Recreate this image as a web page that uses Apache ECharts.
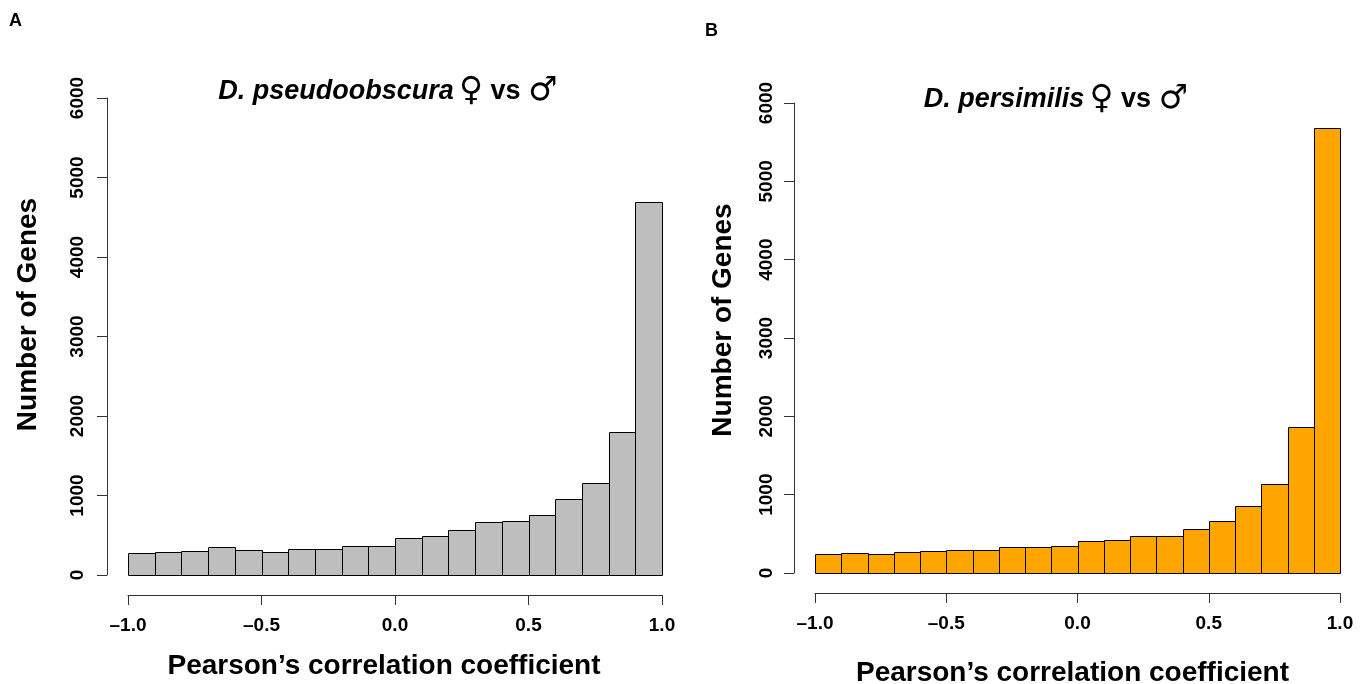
<!DOCTYPE html>
<html><head><meta charset="utf-8">
<script src="https://cdn.jsdelivr.net/npm/echarts@6/dist/echarts.min.js"></script>
<style>html,body{margin:0;padding:0;background:#fff}#c{width:1367px;height:684px}</style>
</head><body><div id="c"></div>
<script>
// Histogram bins (correlation coefficient, width 0.1)
const binStarts = [-1.0,-0.9,-0.8,-0.7,-0.6,-0.5,-0.4,-0.3,-0.2,-0.1,0.0,0.1,0.2,0.3,0.4,0.5,0.6,0.7,0.8,0.9];
const binEnds   = [-0.9,-0.8,-0.7,-0.6,-0.5,-0.4,-0.3,-0.2,-0.1,0.0,0.1,0.2,0.3,0.4,0.5,0.6,0.7,0.8,0.9,1.0];
// Number of genes per bin
const pseudoCounts = [283,295,308,346,312,295,329,321,367,367,460,489,561,667,684,759,962,1156,1802,4692];
const persimCounts = [243,260,243,264,281,298,298,328,328,349,404,426,477,477,566,660,851,1140,1868,5682];
// Axis ticks
const xTicks = [-1.0,-0.5,0.0,0.5,1.0];
const yTicks = [0,1000,2000,3000,4000,5000,6000];
const xTitle = 'Pearson\u2019s correlation coefficient';
const yTitle = 'Number of Genes';

const FONT = '"Liberation Sans", Arial, Helvetica, sans-serif';
const AX = '#333';

function toData(counts){ return counts.map((c,i)=>[binStarts[i], binEnds[i], c]); }

function renderItem(params, api){
  const p0 = api.coord([api.value(0), api.value(2)]);
  const p1 = api.coord([api.value(1), 0]);
  const x0 = Math.round(p0[0]) + 0.5, x1 = Math.round(p1[0]) + 0.5;
  const y0 = Math.round(p0[1]) + 0.5, y1 = Math.round(p1[1]) + 0.5;
  return {type:'rect', shape:{x:x0, y:y0, width:x1-x0, height:y1-y0},
    style: api.style({stroke:'#000', lineWidth:1})};
}

function xAxisCfg(gi, nameGap, namePad){
  return {gridIndex:gi, type:'value', min:xTicks[0], max:xTicks[xTicks.length-1], interval:0.5,
    offset:20, position:'bottom',
    axisLine:{show:true, onZero:false, lineStyle:{color:AX, width:1}},
    axisTick:{show:true, length:10, lineStyle:{color:AX}},
    splitLine:{show:false},
    axisLabel:{fontFamily:FONT, fontWeight:'bold', fontSize:19, color:'#000', margin:21,
      formatter: v => (v<0 ? '\u2013' + Math.abs(v).toFixed(1) : v.toFixed(1))},
    name:xTitle, nameLocation:'middle', nameGap:nameGap,
    nameTextStyle:{fontFamily:FONT, fontWeight:'bold', fontSize:28, color:'#000', padding:namePad}};
}
function yAxisCfg(gi, margin, nameGap, namePad){
  return {gridIndex:gi, type:'value', min:yTicks[0], max:yTicks[yTicks.length-1], interval:1000,
    offset:21, position:'left',
    axisLine:{show:true, onZero:false, lineStyle:{color:AX, width:1}},
    axisTick:{show:true, length:10, lineStyle:{color:AX}},
    splitLine:{show:false},
    axisLabel:{fontFamily:FONT, fontWeight:'bold', fontSize:19, color:'#000', rotate:90, margin:margin,
      formatter: v => String(v)},
    name:yTitle, nameLocation:'middle', nameGap:nameGap,
    nameTextStyle:{fontFamily:FONT, fontWeight:'bold', fontSize:28, color:'#000', padding:namePad}};
}

const titleRich = {
  i:{fontFamily:FONT, fontStyle:'italic', fontWeight:'bold', fontSize:27, color:'#000'},
  n:{fontFamily:FONT, fontWeight:'bold', fontSize:27, color:'#000'},
  s:{fontFamily:'"DejaVu Sans", sans-serif', fontWeight:'bold', fontSize:33, color:'#000'}
};

const chart = echarts.init(document.getElementById('c'), null, {renderer:'canvas'});
chart.setOption({
  backgroundColor:'#fff',
  animation:false,
  title:[
    {text:'A', left:9, top:12, padding:0, textStyle:{fontFamily:FONT, fontWeight:'bold', fontSize:18, color:'#000'}},
    {text:'B', left:705, top:22, padding:0, textStyle:{fontFamily:FONT, fontWeight:'bold', fontSize:18, color:'#000'}},
    {text:'{i|D. pseudoobscura} {s|\u2640}{n| vs }{s|\u2642}', left:388, top:75, padding:0, textAlign:'center',
      textStyle:{rich:titleRich}},
    {text:'{i|D. persimilis} {s|\u2640}{n| vs }{s|\u2642}', left:1056, top:83, padding:0, textAlign:'center',
      textStyle:{rich:titleRich}}
  ],
  grid:[
    {left:128, top:98, width:534, height:477, containLabel:false, outerBoundsMode:'none'},
    {left:815, top:103, width:525, height:470, containLabel:false, outerBoundsMode:'none'}
  ],
  xAxis:[xAxisCfg(0, 57, [0, 22, 0, 0]), xAxisCfg(1, 66, [0, 10, 0, 0])],
  yAxis:[yAxisCfg(0, 20, 65, [0, 0, 0, 44]), yAxisCfg(1, 18, 57, [0, 0, 0, 36])],
  series:[
    {type:'custom', xAxisIndex:0, yAxisIndex:0, renderItem:renderItem, data:toData(pseudoCounts),
      itemStyle:{color:'#BEBEBE'}, encode:{x:[0,1], y:2}},
    {type:'custom', xAxisIndex:1, yAxisIndex:1, renderItem:renderItem, data:toData(persimCounts),
      itemStyle:{color:'#FFA500'}, encode:{x:[0,1], y:2}}
  ]
});
</script>
</body></html>
